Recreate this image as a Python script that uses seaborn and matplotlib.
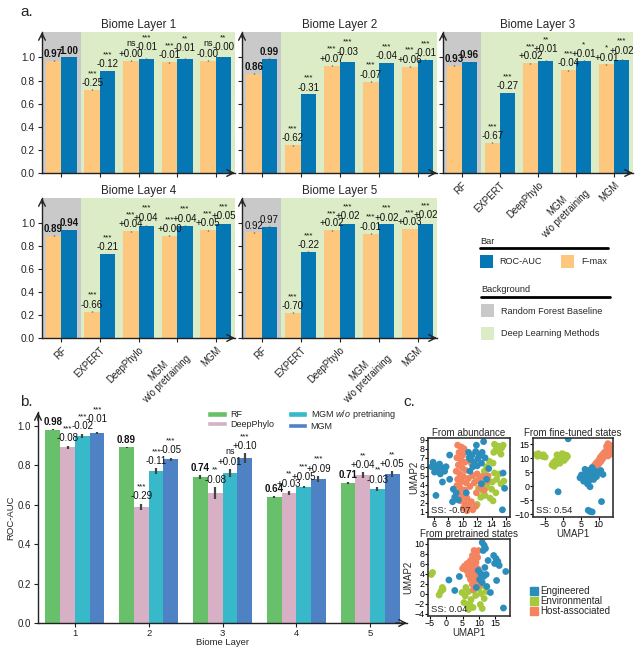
import numpy as np
import pandas as pd
import matplotlib
matplotlib.use("Agg")
import matplotlib.pyplot as plt
from matplotlib.patches import Rectangle, Patch
from matplotlib.lines import Line2D
import seaborn as sns

# ---------------- panel a: per biome layer, F-max / ROC-AUC ----------------
methods_a = ["RF", "EXPERT", "DeepPhylo", "MGM\nw/o pretraining", "MGM"]
fmax_scores = [
    [0.97, 0.72, 0.97, 0.96, 0.97],
    [0.86, 0.24, 0.93, 0.79, 0.92],
    [0.93, 0.26, 0.95, 0.89, 0.94],
    [0.89, 0.23, 0.93, 0.89, 0.94],
    [0.92, 0.22, 0.94, 0.91, 0.95],
]
auc_scores = [
    [1.00, 0.88, 0.99, 0.99, 1.00],
    [0.99, 0.68, 0.96, 0.95, 0.98],
    [0.96, 0.69, 0.97, 0.97, 0.98],
    [0.94, 0.73, 0.98, 0.98, 0.99],
    [0.97, 0.75, 0.99, 0.99, 0.99],
]
fmax_delta = [
    ["-0.25", "+0.00", "-0.01", "-0.00"],
    ["-0.62", "+0.07", "-0.07", "+0.06"],
    ["-0.67", "+0.02", "-0.04", "+0.01"],
    ["-0.66", "+0.04", "+0.00", "+0.05"],
    ["-0.70", "+0.02", "-0.01", "+0.03"],
]
fmax_stars = [
    ["***", "ns", "***", "ns"],
    ["***", "***", "***", "***"],
    ["***", "***", "***", "*"],
    ["***", "***", "***", "***"],
    ["***", "***", "***", "***"],
]
auc_delta = [
    ["-0.12", "-0.01", "-0.01", "-0.00"],
    ["-0.31", "-0.03", "-0.04", "-0.01"],
    ["-0.27", "+0.01", "+0.01", "+0.02"],
    ["-0.21", "+0.04", "+0.04", "+0.05"],
    ["-0.22", "+0.02", "+0.02", "+0.02"],
]
auc_stars = [
    ["***", "***", "**", "**"],
    ["***", "***", "***", "***"],
    ["***", "**", "*", "***"],
    ["***", "***", "***", "***"],
    ["***", "***", "***", "***"],
]
rf_bold = [True, True, True, True, False]
a_err = 0.004

# ---------------- panel b: ROC-AUC by biome layer ----------------
layers_b = ["1", "2", "3", "4", "5"]
models_b = ["RF", "DeepPhylo", r"MGM $\it{w/o}$ pretrianing", "MGM"]
rf_auc = [0.98, 0.89, 0.74, 0.64, 0.71]
deepphylo_auc = [0.89, 0.59, 0.66, 0.66, 0.75]
mgm_wo_auc = [0.95, 0.77, 0.76, 0.69, 0.68]
mgm_auc = [0.965, 0.83, 0.835, 0.73, 0.755]
rf_err = [0.003, 0.003, 0.01, 0.004, 0.005]
deepphylo_err = [0.01, 0.015, 0.03, 0.01, 0.015]
mgm_wo_err = [0.01, 0.015, 0.02, 0.005, 0.01]
mgm_err = [0.006, 0.008, 0.025, 0.015, 0.015]
deepphylo_delta = ["-0.08", "-0.29", "-0.08", "+0.03", "+0.04"]
deepphylo_sig = ["***", "***", "**", "**", "**"]
mgm_wo_delta = ["-0.02", "-0.11", "+0.01", "+0.05", "-0.03"]
mgm_wo_sig = ["***", "***", "ns", "***", "**"]
mgm_delta = ["-0.01", "-0.05", "+0.10", "+0.09", "+0.05"]
mgm_sig = ["***", "***", "***", "***", "**"]

# ---------------- panel c: UMAP embeddings ----------------
biomes = ["Engineered", "Environmental", "Host-associated"]
abund_host = [(9.3, 8.4), (9.8, 8.2), (10.2, 8.0), (9.5, 7.6), (10.0, 7.3), (9.2, 7.0), (9.8, 6.7),
              (10.3, 6.5), (9.4, 6.2), (9.9, 5.9), (10.4, 5.6), (9.1, 5.5), (9.6, 5.2), (10.1, 4.9),
              (9.3, 4.6), (9.8, 4.3), (10.5, 4.2), (9.2, 3.9), (9.7, 3.6), (10.3, 3.4), (9.5, 3.0),
              (10.0, 2.7), (10.6, 2.5), (9.7, 2.2), (10.3, 1.9), (10.9, 1.7), (10.1, 1.4), (11.4, 1.2),
              (10.6, 1.1), (11.2, 2.1), (11.8, 1.6), (11.0, 3.8), (11.6, 4.2), (12.2, 4.5), (12.8, 4.9),
              (13.4, 4.4), (11.4, 5.0), (12.0, 5.2), (12.5, 3.7), (13.0, 3.4), (11.9, 3.1), (10.8, 4.7),
              (11.2, 6.4), (13.5, 5.0)]
abund_env = [(14.4, 8.5), (14.9, 8.3), (15.4, 8.1), (14.6, 7.9), (15.1, 7.7), (15.6, 8.4), (14.3, 7.6),
             (15.3, 7.4), (13.7, 6.6), (13.3, 6.0), (14.2, 6.4), (11.8, 4.4), (12.4, 4.9), (12.9, 4.2),
             (13.5, 4.7), (14.1, 4.3), (14.7, 4.6), (15.3, 4.1), (12.2, 3.6), (12.8, 3.3), (13.4, 3.8),
             (14.0, 3.5), (14.6, 3.1), (13.1, 2.8), (13.8, 2.5), (12.5, 2.6), (15.1, 5.2), (14.4, 5.3),
             (13.0, 5.5), (15.7, 4.4), (12.0, 1.8), (14.2, 2.2)]
abund_eng = [(5.9, 6.5), (6.3, 6.1), (6.8, 6.3), (6.5, 5.7), (7.1, 5.9), (6.1, 5.4), (7.5, 5.5), (6.9, 5.2),
             (7.7, 6.0), (5.7, 6.0), (7.2, 4.3), (8.2, 4.6), (10.8, 7.6), (11.3, 7.3), (11.8, 7.7),
             (12.3, 7.2), (12.7, 7.6), (11.1, 6.8), (11.6, 6.5), (12.1, 6.9), (12.6, 6.4), (13.1, 7.0),
             (11.4, 6.0), (12.0, 6.1), (10.9, 7.0), (12.9, 8.8), (11.9, 8.4), (8.7, 3.5), (9.1, 3.1),
             (8.9, 2.6), (9.4, 2.3), (8.6, 2.1), (12.6, 4.1), (13.3, 4.6), (11.0, 5.5), (10.5, 3.1),
             (13.6, 5.8), (15.6, 5.3), (15.5, 1.2), (6.3, 2.8), (15.8, 3.6), (8.2, 7.3)]

tuned_env = [(-7.4, 11.3), (-6.8, 11.6), (-6.2, 11.0), (-5.6, 10.6), (-4.9, 10.4), (-7.0, 10.7), (-5.4, 11.2),
             (-0.2, 11.6), (0.5, 11.2), (1.1, 11.0), (-0.6, 10.8), (0.2, 10.4), (0.9, 10.0), (-1.2, 10.0),
             (-0.4, 9.6), (0.4, 9.2), (-2.0, 9.2), (-1.2, 8.8), (-2.6, 8.4), (-1.8, 7.9), (-3.0, 7.6),
             (-2.4, 7.1), (-0.8, 8.2), (1.3, 10.6), (-1.6, 11.2)]
tuned_host = [(12.6, 15.2), (13.2, 14.6), (12.2, 14.2), (13.0, 13.8), (12.6, 13.0), (11.9, 12.4), (12.9, 12.3),
              (13.4, 12.0), (11.4, 11.8), (12.2, 11.4), (10.9, 11.0), (11.6, 10.6), (10.4, 10.2), (11.1, 9.7),
              (10.0, 9.2), (10.6, 8.8), (9.4, 8.4), (10.1, 8.0), (8.9, 7.6), (9.5, 7.1), (8.3, 6.8),
              (12.6, 10.8), (13.2, 11.4), (8.0, 6.2)]
tuned_eng = [(7.0, 5.6), (7.8, 5.0), (6.4, 4.6), (8.5, 4.3), (7.2, 3.8), (6.0, 3.4), (8.0, 3.2), (9.0, 5.4),
             (9.8, 4.8), (10.6, 5.6), (6.6, 2.6), (7.4, 2.0), (8.6, 2.4), (9.4, 3.4), (5.2, 4.0), (4.8, 3.0),
             (6.9, 0.8), (7.6, -0.2), (6.2, 6.0), (8.2, 6.6), (7.1, -8.6), (7.6, -9.0), (8.2, -9.2),
             (10.8, -5.5), (1.5, 16.9), (-1.3, -2.0), (11.2, 4.2), (5.8, 1.8)]

pre_host = [(8.5, 8.6), (9.2, 8.0), (8.0, 7.6), (9.6, 7.2), (8.6, 6.9), (7.4, 6.6), (9.1, 6.2), (6.4, 6.0),
            (7.8, 5.8), (5.6, 5.5), (6.9, 5.2), (8.4, 5.1), (9.6, 5.0), (6.2, 4.6), (7.5, 4.4), (8.9, 4.2),
            (6.8, 3.7), (8.1, 3.5), (9.4, 3.4), (7.4, 2.8), (8.7, 2.5), (9.9, 2.7), (8.0, 1.8), (9.2, 1.5),
            (10.3, 1.8), (7.2, 4.9), (10.0, 4.4), (9.9, 8.6), (5.0, 5.0), (8.3, 0.8)]
pre_env = [(4.8, 0.2), (5.8, -0.5), (6.8, 0.4), (7.6, -1.2), (5.4, -1.8), (6.4, -2.4), (8.4, 0.6), (9.0, -0.4),
           (7.2, -2.0), (10.0, 1.0), (10.6, 0.0), (11.2, 1.6), (11.6, -1.0), (10.4, -2.2), (8.2, -2.8),
           (6.0, 1.2), (9.4, 2.0), (11.0, -3.0), (12.2, 0.4), (-4.2, 4.2), (-4.6, 3.8), (-1.2, 1.2),
           (-1.7, 0.4), (-2.2, -0.3), (-1.0, 0.8), (6.8, -3.2)]
pre_eng = [(11.0, 10.2), (11.6, 9.6), (12.0, 9.0), (11.3, 8.6), (14.5, 7.6), (15.2, 7.0), (15.8, 6.4),
           (14.8, 6.0), (16.2, 5.6), (9.8, 4.6), (10.6, 4.0), (11.4, 3.4), (10.2, 2.8), (11.0, 2.2),
           (12.2, 3.8), (11.8, 5.2), (12.4, 1.4), (0.8, 2.7), (2.6, 0.6), (4.0, 3.4), (18.2, 4.4),
           (17.5, -2.9), (13.5, 0.2), (9.2, 1.2), (12.8, 6.6), (15.4, 2.6)]

# ---------------- style ----------------
sns.set_theme(style="ticks")
plt.rcParams["font.family"] = ["Liberation Sans", "DejaVu Sans"]
plt.rcParams["mathtext.fontset"] = "custom"
plt.rcParams["mathtext.it"] = "Liberation Sans:italic"
plt.rcParams["mathtext.rm"] = "Liberation Sans"

C_FMAX = "#FDC77E"
C_AUC = "#0577B5"
BG_RF = "#C9C9C9"
BG_DL = "#DCECC6"
pal_b = ["#69C06A", "#D7B0C6", "#37B9C9", "#4E82C5"]
pal_c = {"Engineered": "#2B8DBC", "Environmental": "#A5C83C", "Host-associated": "#F3845F"}
DARK = "#222222"

W, H = 640, 647
fig = plt.figure(figsize=(W / 100, H / 100), dpi=100)


def px_axes(x0, y0, x1, y1, **kw):
    return fig.add_axes([x0 / W, 1 - y1 / H, (x1 - x0) / W, (y1 - y0) / H], **kw)


def arrows(ax):
    ax.annotate("", xy=(1.0, 0), xytext=(0.97, 0), xycoords="axes fraction",
                arrowprops=dict(arrowstyle="->", color=DARK, lw=1.0, shrinkA=0, shrinkB=0), annotation_clip=False)
    ax.annotate("", xy=(0, 1.0), xytext=(0, 0.96), xycoords="axes fraction",
                arrowprops=dict(arrowstyle="->", color=DARK, lw=1.0, shrinkA=0, shrinkB=0), annotation_clip=False)


def label_bars(ax, xs, tops, labels, stars, bold, gap, lift, step, fs=7, stagger=True):
    prev = None
    for x, top, lab, st in zip(xs, tops, labels, stars):
        y = top + gap
        if stagger and prev is not None and abs(y - prev) < step:
            y = prev + step
        ax.text(x, y, lab, ha="center", va="bottom", fontsize=fs,
                fontweight="bold" if bold else "normal", color="#111111", zorder=6)
        if st:
            ax.text(x, y + lift, st, ha="center", va="bottom",
                    fontsize=fs - 0.5 if st == "ns" else fs - 1.2, color="#111111", zorder=6)
        prev = y


# ---------------- panel a ----------------
a_boxes = [(42, 32, 235, 173), (242, 32, 437, 173), (443, 32, 633, 173),
           (42, 198, 235, 338), (242, 198, 437, 338)]
for k, box in enumerate(a_boxes):
    ax = px_axes(*box)
    ax.axvspan(-0.5, 0.5, color=BG_RF, lw=0, zorder=0)
    ax.axvspan(0.5, 4.5, color=BG_DL, lw=0, zorder=0)
    df = pd.DataFrame({
        "method": methods_a * 2,
        "score": fmax_scores[k] + auc_scores[k],
        "metric": ["F-max"] * 5 + ["ROC-AUC"] * 5,
    })
    sns.barplot(data=df, x="method", y="score", hue="metric", order=methods_a,
                hue_order=["F-max", "ROC-AUC"], palette=[C_FMAX, C_AUC], saturation=1,
                width=0.8, errorbar=None, legend=False, linewidth=0, ax=ax, zorder=2)
    xs = np.arange(5)
    ax.errorbar(xs - 0.2, fmax_scores[k], yerr=a_err, fmt="none", ecolor="#555555", elinewidth=1.0, zorder=3)
    ax.errorbar(xs + 0.2, auc_scores[k], yerr=a_err, fmt="none", ecolor="#555555", elinewidth=1.0, zorder=3)
    for i in range(5):
        tops = [fmax_scores[k][i] + a_err, auc_scores[k][i] + a_err]
        if i == 0:
            labs = [f"{fmax_scores[k][0]:.2f}", f"{auc_scores[k][0]:.2f}"]
            label_bars(ax, [i - 0.2, i + 0.2], tops, labs, [None, None], rf_bold[k],
                       0.012, 0.095, 0.06, stagger=False)
        else:
            labs = [fmax_delta[k][i - 1], auc_delta[k][i - 1]]
            sts = [fmax_stars[k][i - 1], auc_stars[k][i - 1]]
            label_bars(ax, [i - 0.2, i + 0.2], tops, labs, sts, False, 0.012, 0.095, 0.06)
    ax.set_xlim(-0.5, 4.5)
    ax.set_ylim(0, 1.22)
    ax.set_yticks([0, 0.2, 0.4, 0.6, 0.8, 1.0])
    ax.set_yticklabels(["0.0", "0.2", "0.4", "0.6", "0.8", "1.0"])
    ax.set_xlabel("")
    ax.set_ylabel("")
    ax.set_title(f"Biome Layer {k + 1}", fontsize=8.4, pad=3)
    ax.tick_params(axis="y", labelsize=7.3, length=3, width=0.8, pad=2, colors=DARK)
    ax.tick_params(axis="x", labelsize=6.9, length=3, width=0.8, pad=2, colors=DARK)
    if k not in (0, 3):
        ax.tick_params(axis="y", labelleft=False)
    if k in (0, 1):
        ax.tick_params(axis="x", labelbottom=False)
    else:
        for t in ax.get_xticklabels():
            t.set_rotation(45)
            t.set_ha("right")
            t.set_rotation_mode("anchor")
            t.set_multialignment("center")
    sns.despine(ax=ax)
    for s in ("left", "bottom"):
        ax.spines[s].set_color(DARK)
        ax.spines[s].set_linewidth(1.0)
    arrows(ax)

# overlay for panel labels and the panel a key
ov = fig.add_axes([0, 0, 1, 1], zorder=-1)
ov.set_xlim(0, W)
ov.set_ylim(H, 0)
ov.axis("off")
KEY_FS = 6.6
ov.text(480, 241, "Bar", fontsize=KEY_FS, va="center")
ov.plot([480, 608], [248, 248], color="black", lw=2)
ov.add_patch(Rectangle((480, 255), 13, 13, color=C_AUC, lw=0))
ov.text(499, 261.5, "ROC-AUC", fontsize=KEY_FS, va="center")
ov.add_patch(Rectangle((561, 255), 13, 13, color=C_FMAX, lw=0))
ov.text(581, 261.5, "F-max", fontsize=KEY_FS, va="center")
ov.text(481, 290, "Background", fontsize=KEY_FS, va="center")
ov.plot([481, 610], [297, 297], color="black", lw=2)
ov.add_patch(Rectangle((481, 304), 13, 13, color=BG_RF, lw=0))
ov.text(501, 311, "Random Forest Baseline", fontsize=KEY_FS, va="center")
ov.add_patch(Rectangle((481, 327), 13, 13, color=BG_DL, lw=0))
ov.text(501, 334, "Deep Learning Methods", fontsize=KEY_FS, va="center")
ov.text(20, 12, "a.", fontsize=11, va="center")
ov.text(20, 402, "b.", fontsize=11, va="center")
ov.text(403, 402, "c.", fontsize=11, va="center")

# ---------------- panel b ----------------
axb = px_axes(38, 412, 407, 623)
vals_b = [rf_auc, deepphylo_auc, mgm_wo_auc, mgm_auc]
errs_b = [rf_err, deepphylo_err, mgm_wo_err, mgm_err]
dfb = pd.DataFrame({
    "layer": layers_b * 4,
    "auc": sum(vals_b, []),
    "model": sum([[m] * 5 for m in models_b], []),
})
sns.barplot(data=dfb, x="layer", y="auc", hue="model", order=layers_b, hue_order=models_b,
            palette=pal_b, saturation=1, width=0.8, errorbar=None, legend=False,
            linewidth=0, ax=axb)
offs = [-0.3, -0.1, 0.1, 0.3]
for j in range(4):
    axb.errorbar(np.arange(5) + offs[j], vals_b[j], yerr=errs_b[j], fmt="none",
                 ecolor="#444444", elinewidth=1.6, zorder=3)
for i in range(5):
    xs = [i + o for o in offs]
    tops = [vals_b[j][i] + errs_b[j][i] for j in range(4)]
    label_bars(axb, xs[:1], tops[:1], [f"{rf_auc[i]:.2f}"], [None], True, 0.012, 0.055, 0.035)
    label_bars(axb, xs[1:], tops[1:],
               [deepphylo_delta[i], mgm_wo_delta[i], mgm_delta[i]],
               [deepphylo_sig[i], mgm_wo_sig[i], mgm_sig[i]], False, 0.012, 0.055, 0.035)
axb.set_xlim(-0.5, 4.5)
axb.set_ylim(0, 1.07)
axb.set_yticks([0, 0.2, 0.4, 0.6, 0.8, 1.0])
axb.set_yticklabels(["0.0", "0.2", "0.4", "0.6", "0.8", "1.0"])
axb.set_xlabel("Biome Layer", fontsize=6.8, labelpad=0)
axb.set_ylabel("ROC-AUC", fontsize=6.8, labelpad=2)
axb.tick_params(axis="y", labelsize=7, length=3, width=0.8, pad=2, colors=DARK)
axb.tick_params(axis="x", labelsize=6.8, length=3, width=0.8, pad=1, colors=DARK)
sns.despine(ax=axb)
for s in ("left", "bottom"):
    axb.spines[s].set_color(DARK)
    axb.spines[s].set_linewidth(1.0)
arrows(axb)
handles_b = [Patch(facecolor=c, label=m) for c, m in zip(pal_b, models_b)]
axb.legend(handles=handles_b, ncol=2, loc="upper left", bbox_to_anchor=(207 / W, 1 - 408 / H),
           bbox_transform=fig.transFigure, frameon=False, fontsize=6.5, handlelength=2.2,
           handleheight=0.55, handletextpad=0.35, columnspacing=1.5, labelspacing=0.1,
           borderaxespad=0, borderpad=0)

# ---------------- panel c ----------------
def umap_frame(eng, env, host):
    rows = []
    for name, pts in (("Environmental", env), ("Host-associated", host), ("Engineered", eng)):
        for x, y in pts:
            rows.append((x, y, name))
    return pd.DataFrame(rows, columns=["UMAP1", "UMAP2", "biome"])


c_specs = [
    ((428, 438, 510, 517), "From abundance", abund_eng, abund_env, abund_host,
     (5.2, 16.55), (0.4, 9.2), [6, 8, 10, 12, 14, 16], [1, 2, 3, 4, 5, 6, 7, 8, 9], "SS: -0.07", False, True),
    ((533, 438, 613, 517), "From fine-tuned states", tuned_eng, tuned_env, tuned_host,
     (-8.3, 14.0), (-11, 17.2), [-5, 0, 5, 10], [-10, -5, 0, 5, 10, 15], "SS: 0.54", True, False),
    ((428, 539, 510, 616), "From pretrained states", pre_eng, pre_env, pre_host,
     (-5.6, 19.5), (-4.5, 10.9), [-5, 0, 5, 10, 15], [-4, -2, 0, 2, 4, 6, 8, 10], "SS: 0.04", True, True),
]
for box, title, eng, env, host, xl, yl, xt, yt, ss, showx, showy in c_specs:
    ax = px_axes(*box)
    dfc = umap_frame(eng, env, host)
    sns.scatterplot(data=dfc, x="UMAP1", y="UMAP2", hue="biome", palette=pal_c, s=24,
                    linewidth=0, legend=False, ax=ax)
    ax.set_xlim(*xl)
    ax.set_ylim(*yl)
    ax.set_xticks(xt)
    ax.set_yticks(yt)
    ax.set_title(title, fontsize=7, pad=0.8)
    ax.text(0.04, 0.03, ss, transform=ax.transAxes, fontsize=6.8, ha="left", va="bottom")
    ax.tick_params(axis="both", labelsize=6.4, length=2, width=0.8, pad=0.5, colors="black")
    ax.set_xlabel("UMAP1" if showx else "", fontsize=7, labelpad=0)
    ax.set_ylabel("UMAP2" if showy else "", fontsize=7, labelpad=0.5)
    for s in ax.spines.values():
        s.set_color("#333333")
        s.set_linewidth(1.2)

handles_c = [Line2D([], [], marker="s", ls="", color=pal_c[b], markersize=6, label=b) for b in biomes]
fig.legend(handles=handles_c, loc="center left", bbox_to_anchor=(530 / W, 1 - 601 / H),
           frameon=False, fontsize=7, handlelength=0.8, handletextpad=0.3, labelspacing=0.0,
           borderaxespad=0, borderpad=0)

fig.savefig("out.png", dpi=100)
